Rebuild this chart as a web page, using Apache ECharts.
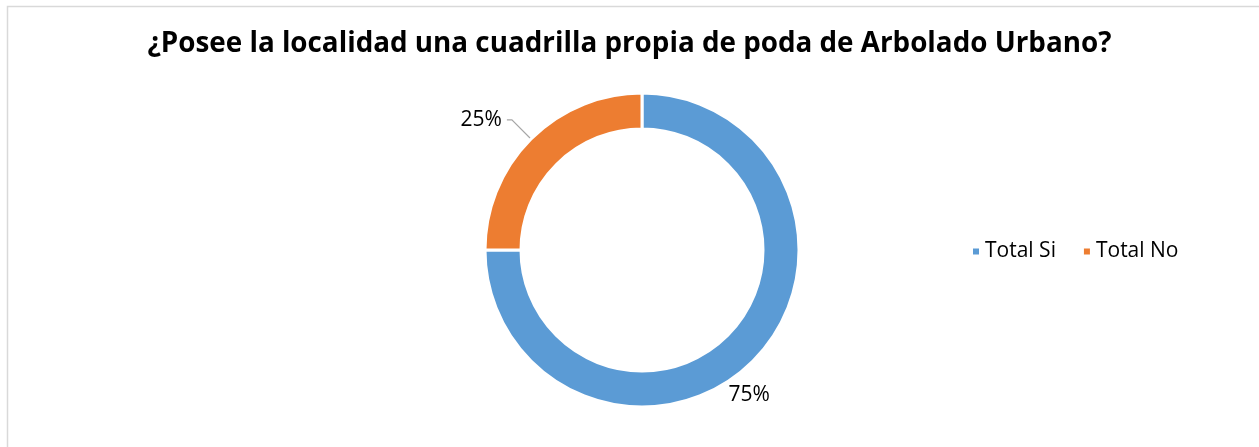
<!DOCTYPE html>
<html>
<head>
<meta charset="utf-8">
<script src="https://cdn.jsdelivr.net/npm/echarts@6/dist/echarts.min.js"></script>
<style>html,body{margin:0;padding:0;background:#fff}#c{width:1259px;height:447px}</style>
</head>
<body>
<div id="c"></div>
<script>
const titleText = '¿Posee la localidad una cuadrilla propia de poda de Arbolado Urbano?';
const categories = ['Total Si', 'Total No'];
const values = [75, 25];
const colors = ['#5B9BD5', '#ED7D31'];

const chart = echarts.init(document.getElementById('c'));
const font = 'Open Sans';
chart.setOption({
  animation: false,
  graphic: [{
    type: 'rect', left: 5, top: 4,
    shape: { width: 1260, height: 450 },
    style: { fill: 'none', stroke: '#D9D9D9', lineWidth: 1.5 }
  }],
  title: {
    text: titleText, left: 'center', top: 25,
    textStyle: { fontFamily: font, fontWeight: 'bold', fontSize: 27.8, color: '#000' }
  },
  legend: {
    orient: 'horizontal', left: 966, top: 236,
    itemWidth: 8, itemHeight: 8, itemGap: 26,
    icon: 'rect',
    textStyle: { fontFamily: font, fontSize: 21, color: '#000' },
    data: categories
  },
  series: [{
    type: 'pie',
    center: [642, 250],
    radius: [121, 157],
    startAngle: 90,
    clockwise: true,
    itemStyle: { borderColor: '#fff', borderWidth: 3 },
    label: {
      formatter: '{d}%', fontFamily: font, fontSize: 21, color: '#000'
    },
    labelLine: { lineStyle: { color: '#A6A6A6', width: 1.2 } },
    labelLayout: function (p) {
      return p.dataIndex === 0 ? { dx: -38, dy: 26 } : {};
    },
    data: categories.map((n, i) => ({
      name: n, value: values[i], itemStyle: { color: colors[i] },
      labelLine: i === 0 ? { show: false, length: 12, length2: 0 } : { show: true, length: 27, length2: 5 }
    }))
  }]
});
</script>
</body>
</html>
